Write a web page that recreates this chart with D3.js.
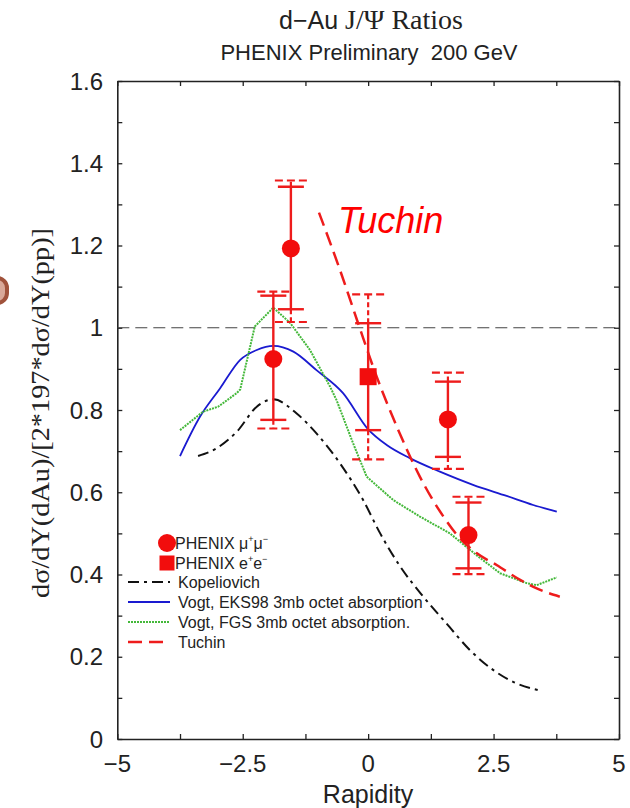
<!DOCTYPE html>
<html>
<head>
<meta charset="utf-8">
<script src="https://cdn.jsdelivr.net/npm/d3@7"></script>
<style>
  html, body { margin: 0; padding: 0; background: #fff; }
  svg { display: block; }
</style>
</head>
<body>
<svg id="chart" width="630" height="808"></svg>
<script>
// ---------------- DATA ----------------
const xTicks = [-5, -2.5, 0, 2.5, 5];
const xTickLabels = ["\u22125", "\u22122.5", "0", "2.5", "5"];
const yTicks = [0, 0.2, 0.4, 0.6, 0.8, 1, 1.2, 1.4, 1.6];
const yTickLabels = ["0", "0.2", "0.4", "0.6", "0.8", "1", "1.2", "1.4", "1.6"];

// PHENIX mu+mu- points
const muX      = [-1.89, -1.54, 1.59, 2.0];
const muY      = [0.924, 1.193, 0.777, 0.496];
const muStatLo = [0.776, 1.045, 0.686, 0.415];
const muStatHi = [1.078, 1.343, 0.869, 0.575];
const muSysLo  = [0.755, 1.014, 0.657, 0.401];
const muSysHi  = [1.088, 1.358, 0.891, 0.589];

// PHENIX e+e- point
const eeX      = [0.0];
const eeY      = [0.881];
const eeStatLo = [0.751];
const eeStatHi = [1.011];
const eeSysLo  = [0.680];
const eeSysHi  = [1.081];

// Theory curves [rapidity, ratio]
const kopeliovich = [[-3.39,0.688],[-3.02,0.707],[-2.62,0.747],[-2.22,0.808],[-1.89,0.826],[-1.43,0.792],
  [-1.03,0.743],[-0.56,0.670],[-0.10,0.581],[0.24,0.50],[0.63,0.421],[1.10,0.346],[1.56,0.281],
  [2.03,0.216],[2.49,0.168],[2.96,0.135],[3.39,0.119]];
const vogtEKS = [[-3.75,0.688],[-3.35,0.784],[-2.95,0.853],[-2.55,0.922],[-2.22,0.946],[-1.89,0.956],
  [-1.49,0.942],[-1.03,0.897],[-0.50,0.841],[0.0,0.753],[0.37,0.715],[0.83,0.683],[1.43,0.650],
  [2.09,0.618],[2.76,0.591],[3.29,0.569],[3.76,0.553]];
const vogtFGS = [[-3.75,0.751],[-3.29,0.796],[-2.99,0.808],[-2.62,0.841],[-2.55,0.85],[-2.26,1.003],
  [-1.89,1.049],[-1.55,1.011],[-1.16,0.946],[-0.76,0.857],[-0.63,0.824],[-0.30,0.719],[-0.03,0.638],
  [0.50,0.581],[1.03,0.541],[1.63,0.500],[2.16,0.447],[2.63,0.403],[3.16,0.379],[3.36,0.374],[3.76,0.393]];
const tuchin = [[-0.98,1.28],[-0.56,1.140],[-0.20,1.011],[0.17,0.881],[0.63,0.743],[1.03,0.638],
  [1.50,0.541],[1.83,0.488],[2.16,0.452],[2.56,0.423],[3.03,0.387],[3.36,0.366],[3.82,0.346]];

const legendLabels = ["Kopeliovich", "Vogt, EKS98 3mb octet absorption", "Vogt, FGS 3mb octet absorption.", "Tuchin"];

// ---------------- LAYOUT ----------------
const SANS = "'Liberation Sans', Arial, Helvetica, sans-serif";
const SERIF = "'Liberation Serif', 'Times New Roman', Times, serif";
const RED = "#ee1c1c";
const MARK = "#f20d0d";

const svg = d3.select("#chart");
const pLeft = 117.3, pRight = 619, pTop = 81, pBottom = 739;

const x = d3.scaleLinear().domain([-5, 5]).range([pLeft, pRight]);
const y = d3.scaleLinear().domain([0, 1.6]).range([pBottom, pTop]);

// decorative brown shape at left edge
svg.append("rect").attr("x", -22).attr("y", 278).attr("width", 29).attr("height", 25).attr("rx", 10)
  .attr("fill", "#d9a898").attr("stroke", "#a0523b").attr("stroke-width", 4);

// clip
svg.append("defs").append("clipPath").attr("id", "clip")
  .append("rect").attr("x", pLeft).attr("y", pTop).attr("width", pRight - pLeft).attr("height", pBottom - pTop);

// ---------------- AXES ----------------
const minorX = d3.range(-5, 5.01, 1.25);
const minorY = d3.range(0, 1.601, 0.1);

const axB = d3.axisBottom(x).tickValues(minorX).tickSizeInner(-5).tickSizeOuter(0).tickFormat("");
const axT = d3.axisTop(x).tickValues(minorX).tickSizeInner(-5).tickSizeOuter(0).tickFormat("");
const axL = d3.axisLeft(y).tickValues(minorY).tickSizeInner(-5).tickSizeOuter(0).tickFormat("");
const axR = d3.axisRight(y).tickValues(minorY).tickSizeInner(-5).tickSizeOuter(0).tickFormat("");

function styleAxis(g) {
  g.selectAll("path").attr("stroke", "#222").attr("stroke-width", 1.6);
  g.selectAll("line").attr("stroke", "#222").attr("stroke-width", 1.3);
}
svg.append("g").attr("transform", `translate(0,${pBottom})`).call(axB).call(styleAxis);
svg.append("g").attr("transform", `translate(0,${pTop})`).call(axT).call(styleAxis);
svg.append("g").attr("transform", `translate(${pLeft},0)`).call(axL).call(styleAxis);
svg.append("g").attr("transform", `translate(${pRight},0)`).call(axR).call(styleAxis);

// tick labels
svg.append("g").selectAll("text").data(xTicks).join("text")
  .attr("x", d => x(d)).attr("y", 772)
  .attr("text-anchor", "middle").attr("font-family", SANS).attr("font-size", 24).attr("fill", "#222")
  .text((d, i) => xTickLabels[i]);
svg.append("g").selectAll("text").data(yTicks).join("text")
  .attr("x", 103).attr("y", d => y(d) + 8.5)
  .attr("text-anchor", "end").attr("font-family", SANS).attr("font-size", 24).attr("fill", "#222")
  .text((d, i) => yTickLabels[i]);

// axis titles
svg.append("text").attr("x", 368).attr("y", 803).attr("text-anchor", "middle")
  .attr("font-family", SANS).attr("font-size", 25).attr("fill", "#222").text("Rapidity");
svg.append("text").attr("transform", "translate(49,413) rotate(-90)").attr("text-anchor", "middle")
  .attr("font-family", SERIF).attr("font-size", 25).attr("fill", "#222")
  .attr("textLength", 370).attr("lengthAdjust", "spacingAndGlyphs")
  .text("d\u03c3/dY(dAu)/[2*197*d\u03c3/dY(pp)]");

// titles
const t1 = svg.append("text").attr("x", 371).attr("y", 29).attr("text-anchor", "middle")
  .attr("fill", "#222");
t1.append("tspan").attr("font-family", SANS).attr("font-size", 25).text("d\u2212Au ");
t1.append("tspan").attr("font-family", SERIF).attr("font-size", 28).text("J/\u03a8 Ratios");
svg.append("text").attr("x", 369).attr("y", 60).attr("text-anchor", "middle")
  .attr("font-family", SANS).attr("font-size", 22).attr("fill", "#222")
  .attr("xml:space", "preserve").style("white-space", "pre")
  .text("PHENIX Preliminary  200 GeV");

// ---------------- PLOT CONTENT ----------------
const plot = svg.append("g").attr("clip-path", "url(#clip)");

// reference line at 1
plot.append("line").attr("x1", pLeft).attr("x2", pRight).attr("y1", y(1)).attr("y2", y(1))
  .attr("stroke", "#444").attr("stroke-width", 1.2).attr("stroke-dasharray", "12,6");

const lineMono = d3.line().x(d => x(d[0])).y(d => y(d[1])).curve(d3.curveMonotoneX);
const lineLin = d3.line().x(d => x(d[0])).y(d => y(d[1]));

const styles = [
  { data: kopeliovich, gen: lineMono, stroke: "#111", width: 2, dash: "11,5,3,5" },
  { data: vogtEKS, gen: lineMono, stroke: "#1a1ad0", width: 1.8, dash: null },
  { data: vogtFGS, gen: lineLin, stroke: "#44b83a", width: 2, dash: "2,1" },
  { data: tuchin, gen: lineMono, stroke: RED, width: 2.5, dash: "14,7" }
];
styles.forEach(s => {
  plot.append("path").attr("d", s.gen(s.data)).attr("fill", "none")
    .attr("stroke", s.stroke).attr("stroke-width", s.width)
    .attr("stroke-dasharray", s.dash);
});

// error bars
function errorBars(xs, ys, sLo, sHi, yLo, yHi) {
  const g = plot.append("g");
  xs.forEach((xv, i) => {
    const cx = x(xv);
    g.append("line").attr("x1", cx).attr("x2", cx).attr("y1", y(sHi[i])).attr("y2", y(yHi[i]))
      .attr("stroke", RED).attr("stroke-width", 2.2).attr("stroke-dasharray", "5,3");
    g.append("line").attr("x1", cx).attr("x2", cx).attr("y1", y(sLo[i])).attr("y2", y(yLo[i]))
      .attr("stroke", RED).attr("stroke-width", 2.2).attr("stroke-dasharray", "5,3");
    [yLo[i], yHi[i]].forEach(v => {
      g.append("line").attr("x1", cx - 16).attr("x2", cx + 16).attr("y1", y(v)).attr("y2", y(v))
        .attr("stroke", RED).attr("stroke-width", 2.2).attr("stroke-dasharray", "8,4");
    });
    g.append("line").attr("x1", cx).attr("x2", cx).attr("y1", y(sLo[i])).attr("y2", y(sHi[i]))
      .attr("stroke", RED).attr("stroke-width", 2.4);
    [sLo[i], sHi[i]].forEach(v => {
      g.append("line").attr("x1", cx - 13).attr("x2", cx + 13).attr("y1", y(v)).attr("y2", y(v))
        .attr("stroke", RED).attr("stroke-width", 2.4);
    });
  });
}
errorBars(muX, muY, muStatLo, muStatHi, muSysLo, muSysHi);
errorBars(eeX, eeY, eeStatLo, eeStatHi, eeSysLo, eeSysHi);

plot.append("g").selectAll("circle").data(muX).join("circle")
  .attr("cx", d => x(d)).attr("cy", (d, i) => y(muY[i])).attr("r", 9).attr("fill", MARK);
plot.append("g").selectAll("rect").data(eeX).join("rect")
  .attr("x", d => x(d) - 8.5).attr("y", (d, i) => y(eeY[i]) - 8.5)
  .attr("width", 17).attr("height", 17).attr("fill", MARK);

// Tuchin annotation
svg.append("text").attr("x", 338).attr("y", 233).attr("font-family", SANS)
  .attr("font-style", "italic").attr("font-size", 36).attr("fill", "#ff0000").text("Tuchin");

// ---------------- LEGEND ----------------
const lg = svg.append("g");
lg.append("circle").attr("cx", 167).attr("cy", 543).attr("r", 9).attr("fill", MARK);
lg.append("rect").attr("x", 159.5).attr("y", 555.5).attr("width", 15).attr("height", 15).attr("fill", MARK);

function pairLabel(a, b, yy, sym1, sym2) {
  const t = lg.append("text").attr("x", 175).attr("y", yy).attr("font-family", SANS)
    .attr("font-size", 16).attr("fill", "#222");
  t.append("tspan").text("PHENIX ");
  t.append("tspan").text(a);
  t.append("tspan").attr("font-size", 9).attr("dy", -7).text(sym1);
  t.append("tspan").attr("dy", 7).text(b);
  t.append("tspan").attr("font-size", 9).attr("dy", -7).text(sym2);
}
pairLabel("\u03bc", "\u03bc", 549, "+", "\u2212");
pairLabel("e", "e", 569, "+", "\u2212");

const legY = [582, 602, 622, 642];
styles.forEach((s, i) => {
  lg.append("line").attr("x1", 128).attr("x2", 170).attr("y1", legY[i]).attr("y2", legY[i])
    .attr("stroke", s.stroke).attr("stroke-width", s.width).attr("stroke-dasharray", s.dash);
  lg.append("text").attr("x", 178).attr("y", legY[i] + 6).attr("font-family", SANS)
    .attr("font-size", 16).attr("fill", "#222").text(legendLabels[i]);
});
</script>
</body>
</html>
